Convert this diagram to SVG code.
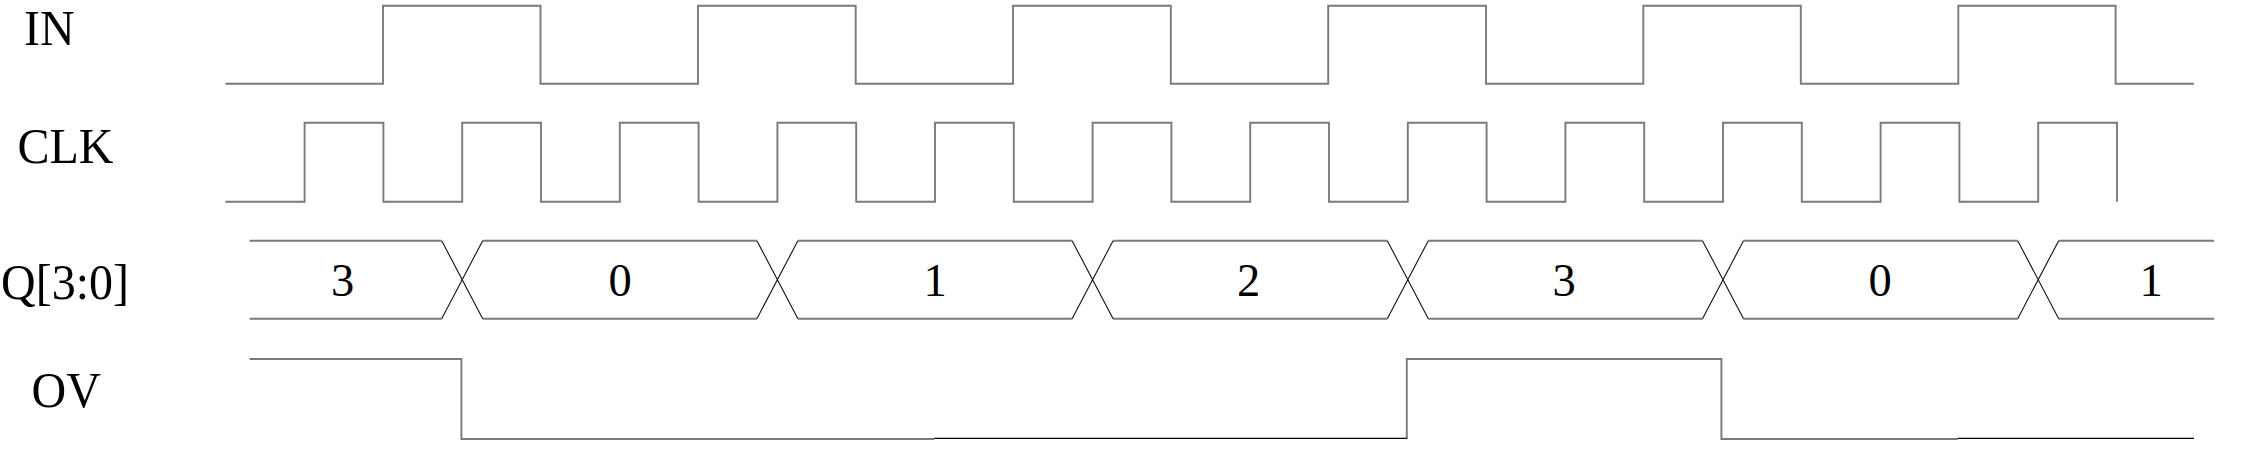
<svg xmlns="http://www.w3.org/2000/svg" width="2268" height="455" viewBox="0 0 2268 455">
<style>
.lbl{font-family:'Liberation Serif','Times New Roman',Times,serif;font-size:48px;fill:#000}
.val{font-family:'Liberation Serif','Times New Roman',Times,serif;font-size:46.5px;fill:#000;text-anchor:middle}
.w{fill:none;stroke:#7a7a7a;stroke-width:1.9;stroke-linejoin:miter}
.x{fill:none;stroke:#111;stroke-width:1.1}
.k{fill:none;stroke:#000;stroke-width:1.3}
</style>
<rect width="2268" height="455" fill="#fff"/>
<g id="sig-IN">
<text class="lbl" transform="translate(24,45) scale(1,1.045)">IN</text>
<path class="w" d="M225.4,83.7 H383 V5.7 H540.5 V83.7 H698 V5.7 H855.7 V83.7 H1013 V5.7 H1170.8 V83.7 H1328.2 V5.7 H1486 V83.7 H1643.3 V5.7 H1800.8 V83.7 H1958.3 V5.7 H2115.6 V83.7 H2194"/>
</g>
<g id="sig-CLK">
<text class="lbl" transform="translate(17.5,163.3) scale(1,1.045)">CLK</text>
<path class="w" d="M225.4,201.7 H304.6 V122.7 H383.4 V201.7 H462.2 V122.7 H541 V201.7 H619.8 V122.7 H698.6 V201.7 H777.4 V122.7 H856.2 V201.7 H935 V122.7 H1013.8 V201.7 H1092.6 V122.7 H1171.4 V201.7 H1250.2 V122.7 H1329 V201.7 H1407.8 V122.7 H1486.6 V201.7 H1565.4 V122.7 H1644.2 V201.7 H1723 V122.7 H1801.8 V201.7 H1880.6 V122.7 H1959.4 V201.7 H2038.2 V122.7 H2117 V201.7"/>
</g>
<g id="sig-Q">
<text class="lbl" transform="translate(1,299) scale(1,1.045)">Q[3:0]</text>
<path class="w" d="M249.6,240.7 H441.7 M482.7,240.7 H756.9 M797.9,240.7 H1072.1 M1113.1,240.7 H1387.3 M1428.3,240.7 H1702.5 M1743.5,240.7 H2017.7 M2058.7,240.7 H2214 M249.6,318.7 H441.7 M482.7,318.7 H756.9 M797.9,318.7 H1072.1 M1113.1,318.7 H1387.3 M1428.3,318.7 H1702.5 M1743.5,318.7 H2017.7 M2058.7,318.7 H2214"/>
<path class="x" d="M441.7,240.7 L482.7,318.7 M441.7,318.7 L482.7,240.7 M756.9,240.7 L797.9,318.7 M756.9,318.7 L797.9,240.7 M1072.1,240.7 L1113.1,318.7 M1072.1,318.7 L1113.1,240.7 M1387.3,240.7 L1428.3,318.7 M1387.3,318.7 L1428.3,240.7 M1702.5,240.7 L1743.5,318.7 M1702.5,318.7 L1743.5,240.7 M2017.7,240.7 L2058.7,318.7 M2017.7,318.7 L2058.7,240.7"/>
<text class="val" x="342.5" y="295.5">3</text>
<text class="val" x="620" y="295.5">0</text>
<text class="val" x="935" y="295.5">1</text>
<text class="val" x="1248.5" y="295.5">2</text>
<text class="val" x="1564" y="295.5">3</text>
<text class="val" x="1880" y="295.5">0</text>
<text class="val" x="2151" y="295.5">1</text>
</g>
<g id="sig-OV">
<text class="lbl" transform="translate(31.5,406.7) scale(1,1.045)">OV</text>
<path class="w" d="M249.6,359 H461.4 V439 H934.3 M1406.8,439 V359 H1721.4 V439 H1958"/>
<path class="k" d="M934.3,438.4 H1406.8 M1958,438.4 H2194"/>
</g>
</svg>
